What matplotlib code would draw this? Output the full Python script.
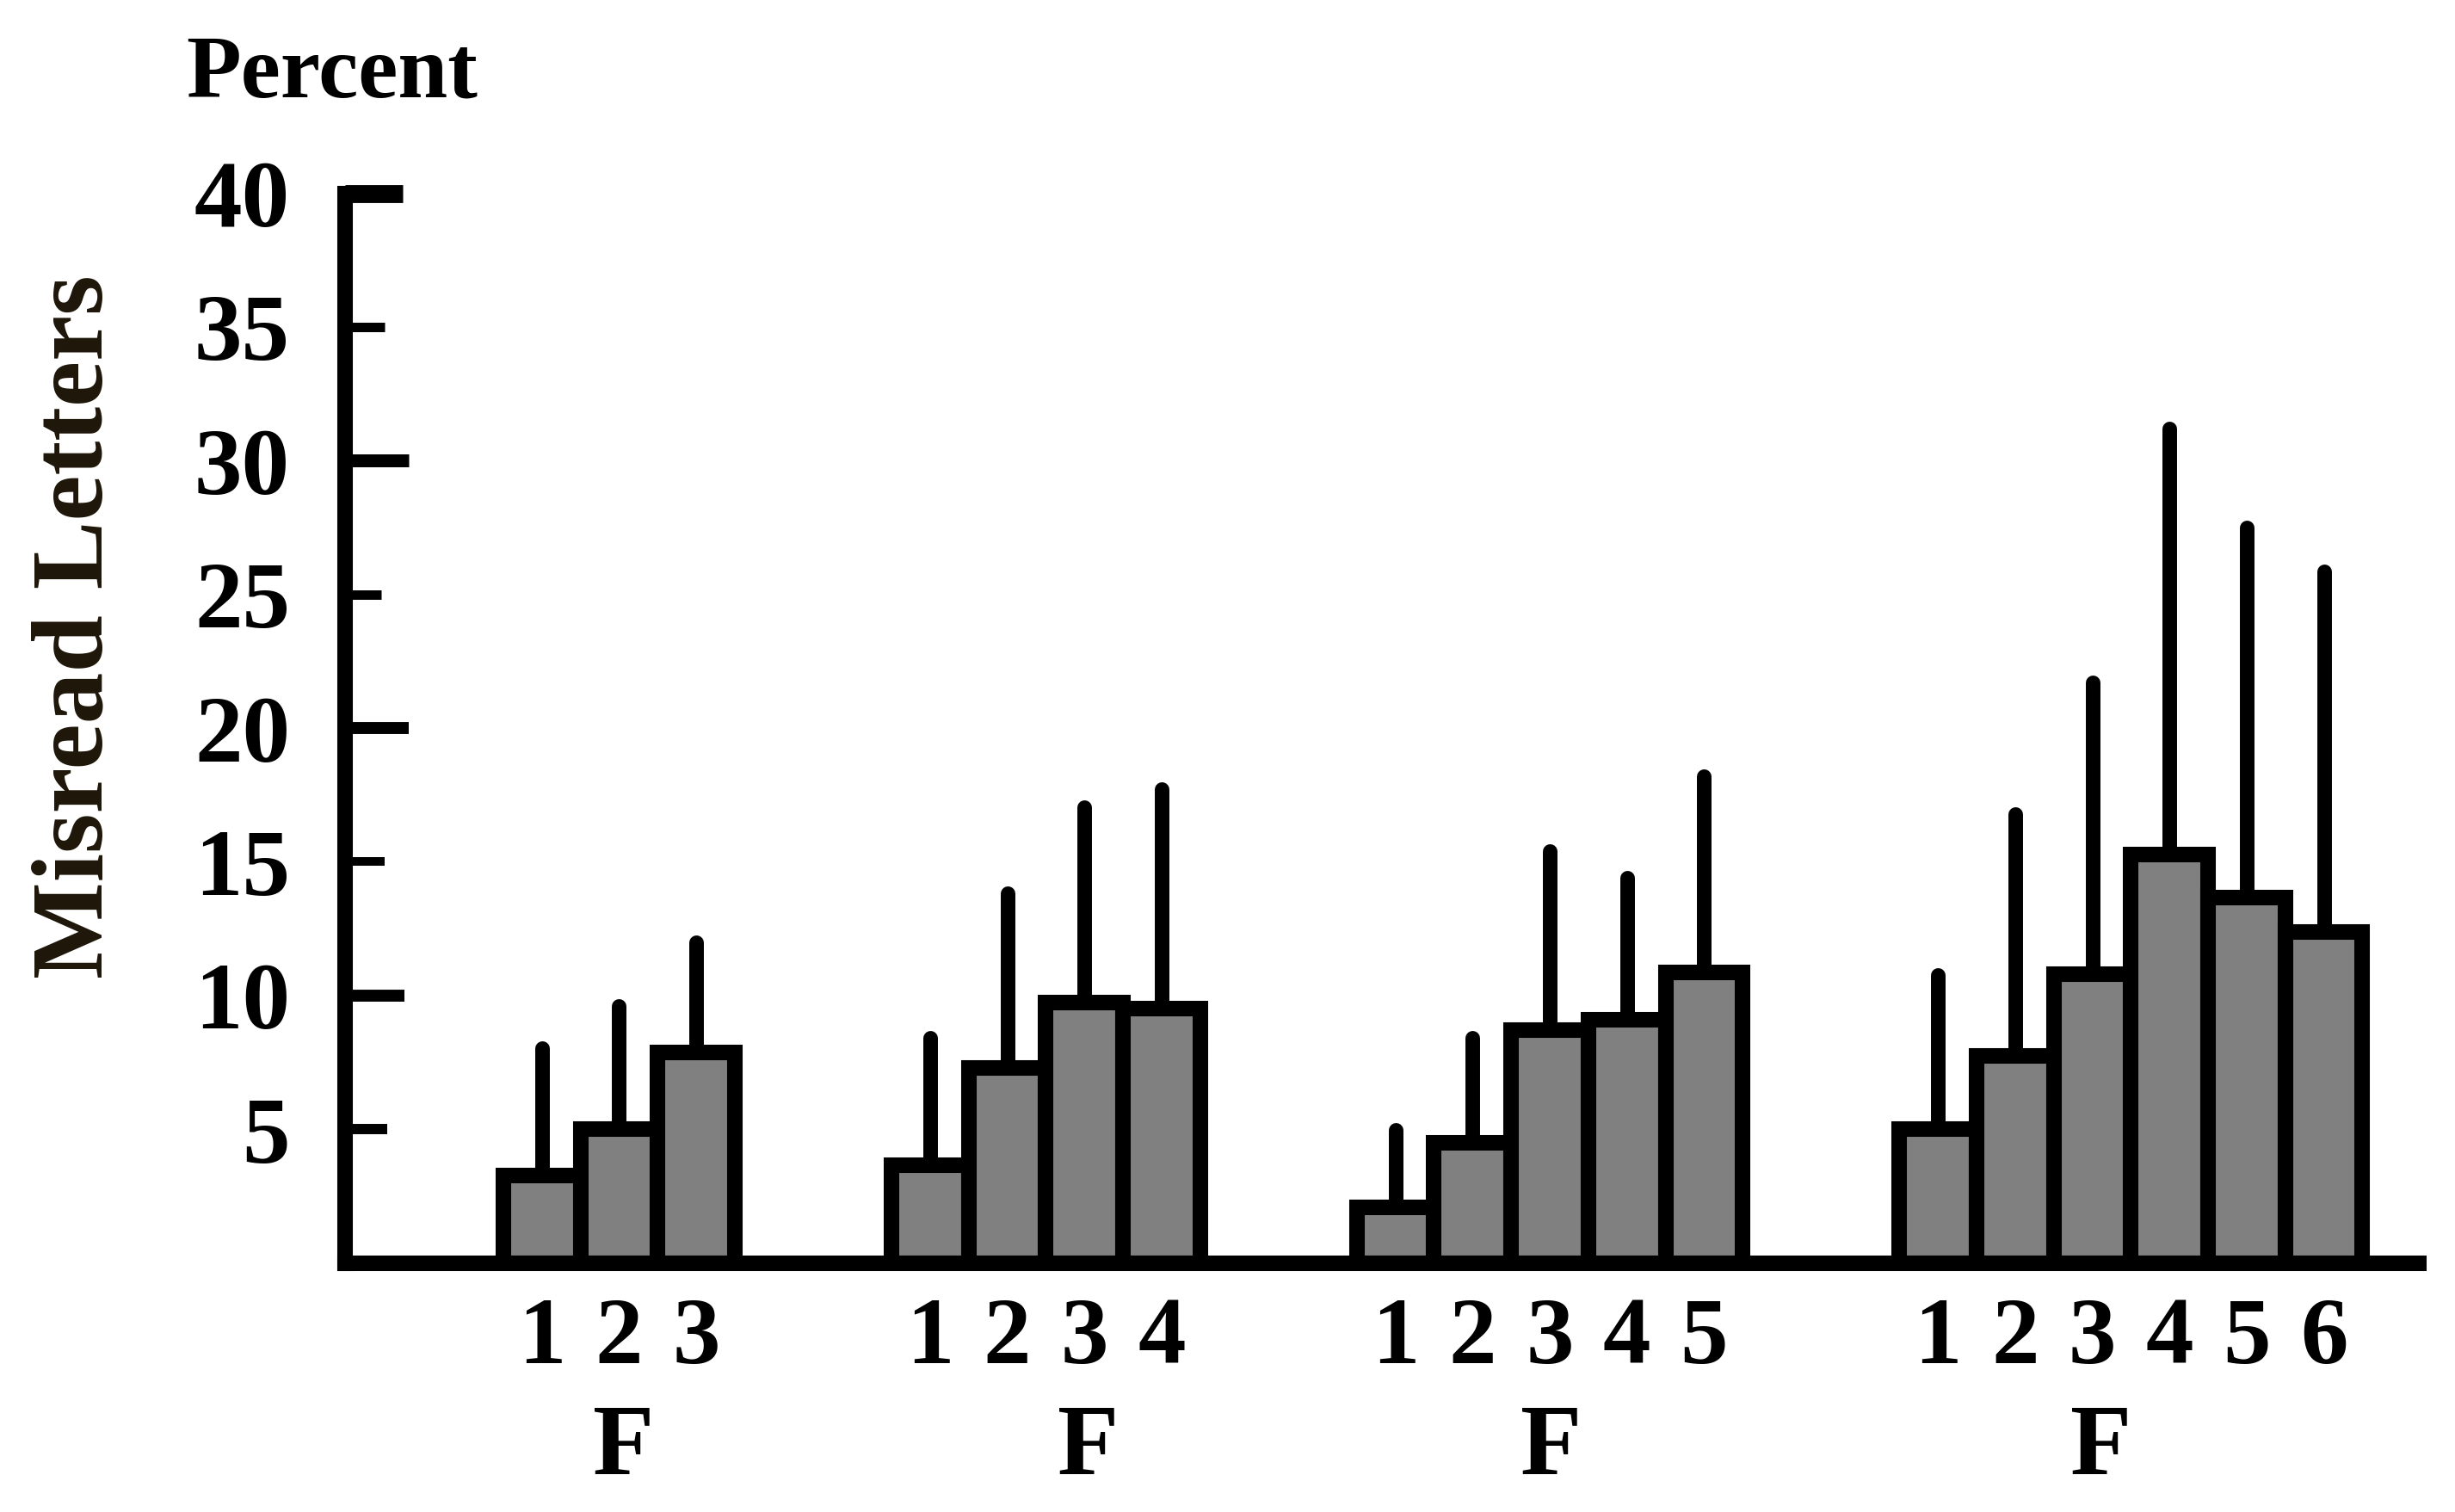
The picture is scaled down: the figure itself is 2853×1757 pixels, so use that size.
import numpy as np
import matplotlib.pyplot as plt

# values (percent of misread letters), four groups of F
group_names = ['F', 'F', 'F', 'F']
bar_labels = [
    ['1', '2', '3'],
    ['1', '2', '3', '4'],
    ['1', '2', '3', '4', '5'],
    ['1', '2', '3', '4', '5', '6'],
]
means = [
    [3.26, 5.01, 7.88],
    [3.67, 7.30, 9.75, 9.52],
    [2.08, 4.48, 8.70, 9.11, 10.87],
    [5.01, 7.76, 10.81, 15.26, 13.68, 12.39],
]
sds = [
    [4.76, 4.59, 4.12],
    [4.76, 6.51, 7.28, 8.21],
    [2.89, 3.95, 6.69, 5.29, 7.33],
    [5.76, 9.04, 10.91, 15.94, 13.83, 13.48],
]
yticks = [5, 10, 15, 20, 25, 30, 35, 40]

plt.rcParams['font.family'] = 'Liberation Serif'
plt.rcParams['font.weight'] = 'bold'

fig = plt.figure(figsize=(28.53, 17.57), dpi=100)
ax = fig.add_axes([0.14055, 0.16466, 0.8447, 0.70756])

# layout of the groups, in bar widths
start = 2.05
gap = 2.03
xs, hs, es, labs, centers = [], [], [], [], []
left = start
for lab, m, s in zip(bar_labels, means, sds):
    pos = left + np.arange(len(m)) + 0.5
    xs += list(pos)
    hs += m
    es += s
    labs += lab
    centers.append(pos.mean())
    left += len(m) + gap

eb = ax.errorbar(xs, hs, yerr=[np.zeros(len(es)), es], fmt='none',
                 ecolor='black', elinewidth=12.2, capsize=0, zorder=2)
for lc in eb.lines[2]:
    lc.set_capstyle('round')
ax.bar(xs, hs, width=1.0, color='#808080', edgecolor='black',
       linewidth=13, zorder=3)

ax.set_xlim(0, 26.87)
ax.set_ylim(0, 40)

for side in ['top', 'right']:
    ax.spines[side].set_visible(False)
for side in ['left', 'bottom']:
    ax.spines[side].set_linewidth(13)
    ax.spines[side].set_capstyle('projecting')
    ax.spines[side].set_zorder(4)

ax.set_yticks(yticks)
ax.set_yticklabels([str(t) for t in yticks])
ax.tick_params(axis='y', direction='in', length=35, width=10, pad=46,
               labelsize=80)
# uneven tick lengths as in the original drawing
tick_len = [35, 50, 33, 53, 30, 53, 33, 48]
tick_w = [8.6, 10, 7.2, 10, 7.9, 10.8, 7.9, 15]
for t, L, W in zip(ax.yaxis.get_major_ticks(), tick_len, tick_w):
    t.tick1line.set_markersize(L)
    t.tick1line.set_markeredgewidth(W)

ax.set_xticks(xs)
ax.set_xticklabels(labs)
ax.tick_params(axis='x', length=0, pad=28, labelsize=80)

f_shift = [0.06, 0.55, 0.02, -0.39]
for c, sh, name in zip(centers, f_shift, group_names):
    ax.text(c + sh, -0.197, name, transform=ax.get_xaxis_transform(),
            ha='center', va='baseline', fontsize=84, fontweight='bold')

fig.text(0.0757, 0.9357, 'Percent', ha='left', va='baseline',
         fontsize=75, fontweight='bold')
fig.text(0.04136, 0.5857, 'Misread Letters', rotation=90,
         rotation_mode='anchor', ha='center', va='baseline',
         fontsize=86, fontweight='bold', color='#1e1608')

fig.savefig('out.png', dpi=100, facecolor='white')
